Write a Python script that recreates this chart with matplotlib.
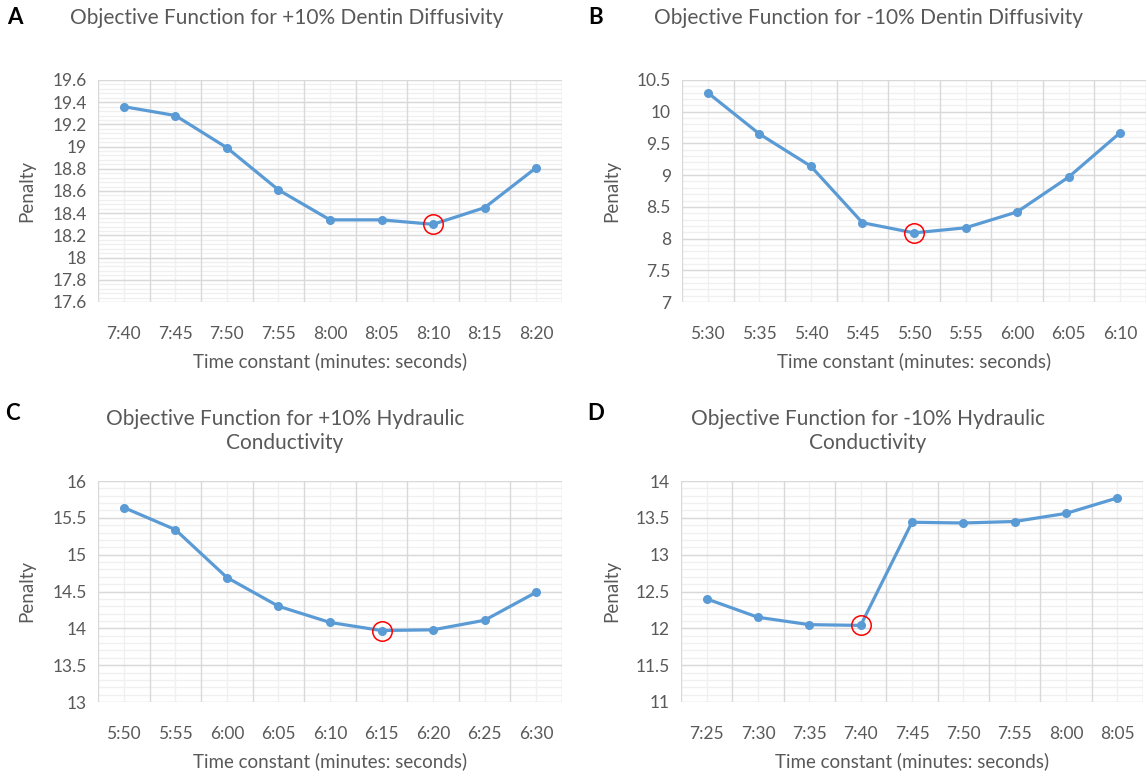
import matplotlib
matplotlib.use("Agg")
import matplotlib.pyplot as plt
import numpy as np
from matplotlib.ticker import MultipleLocator

plt.rcParams['font.family'] = ['Lato', 'DejaVu Sans']

# ---- data ----
labels_a = ["7:40", "7:45", "7:50", "7:55", "8:00", "8:05", "8:10", "8:15", "8:20"]
values_a = [19.36, 19.28, 18.99, 18.61, 18.34, 18.34, 18.30, 18.45, 18.81]
best_a = 6

labels_b = ["5:30", "5:35", "5:40", "5:45", "5:50", "5:55", "6:00", "6:05", "6:10"]
values_b = [10.30, 9.65, 9.14, 8.25, 8.09, 8.17, 8.42, 8.97, 9.67]
best_b = 4

labels_c = ["5:50", "5:55", "6:00", "6:05", "6:10", "6:15", "6:20", "6:25", "6:30"]
values_c = [15.64, 15.34, 14.69, 14.30, 14.08, 13.97, 13.98, 14.11, 14.49]
best_c = 5

labels_d = ["7:25", "7:30", "7:35", "7:40", "7:45", "7:50", "7:55", "8:00", "8:05"]
values_d = [12.40, 12.15, 12.05, 12.04, 13.44, 13.43, 13.45, 13.56, 13.77]
best_d = 3

titles = ["Objective Function for +10% Dentin Diffusivity",
          "Objective Function for -10% Dentin Diffusivity",
          "Objective Function for +10% Hydraulic\nConductivity",
          "Objective Function for -10% Hydraulic\nConductivity"]
letters = ["A", "B", "C", "D"]
xlabel = "Time constant (minutes: seconds)"
ylabel = "Penalty"

W, H = 1146, 772
fig = plt.figure(figsize=(W / 100, H / 100), dpi=100)

TXT = "#595959"
LINE = "#5B9BD5"

panels = [
    dict(lab=labels_a, val=values_a, best=best_a, rect=(98, 80, 464, 222), ylim=(17.6, 19.6), major=0.2,
         title_xy=(287, 18), letter_xy=(15, 18), ylab_x=27),
    dict(lab=labels_b, val=values_b, best=best_b, rect=(682, 80, 464, 222), ylim=(7, 10.5), major=0.5,
         title_xy=(868, 18), letter_xy=(596, 18), ylab_x=612),
    dict(lab=labels_c, val=values_c, best=best_c, rect=(98, 481, 464, 221), ylim=(13, 16), major=0.5,
         title_xy=(285, 431), letter_xy=(12, 413), ylab_x=27),
    dict(lab=labels_d, val=values_d, best=best_d, rect=(681, 481, 462, 221), ylim=(11, 14), major=0.5,
         title_xy=(868, 431), letter_xy=(596, 413), ylab_x=612),
]

for i, p in enumerate(panels):
    l, t, w, h = p["rect"]
    ax = fig.add_axes([l / W, 1 - (t + h) / H, w / W, h / H])
    x = np.arange(len(p["lab"]))
    ax.set_xlim(-0.5, len(x) - 0.5)
    ax.set_ylim(*p["ylim"])
    ax.yaxis.set_major_locator(MultipleLocator(p["major"]))
    ax.set_xticks(x)
    ax.set_xticklabels(p["lab"])
    ax.grid(False)
    for yv in np.arange(p["ylim"][0], p["ylim"][1] + 1e-9, p["major"] / 5):
        ax.axhline(yv, color="#f0f0f0", lw=1.0, zorder=0)
    for yv in np.arange(p["ylim"][0], p["ylim"][1] + 1e-9, p["major"]):
        ax.axhline(yv, color="#d9d9d9", lw=1.0, zorder=0.5)
    for xv in x:
        ax.axvline(xv, color="#f0f0f0", lw=1.0, zorder=0)
    for xv in np.arange(len(x) + 1) - 0.5:
        ax.axvline(xv, color="#d9d9d9", lw=1.0, zorder=0.5)
    for s in ax.spines.values():
        s.set_visible(False)
    ax.tick_params(axis="both", which="both", length=0, colors=TXT, labelsize=12.5)
    ax.tick_params(axis="x", pad=17)
    ax.tick_params(axis="y", pad=8)
    ax.set_yticklabels([f"{v:g}" for v in ax.get_yticks()])
    ax.plot(x, p["val"], color=LINE, lw=2.3, marker="o", ms=5.5, zorder=3, clip_on=False)
    b = p["best"]
    ax.plot([x[b]], [p["val"][b]], marker="o", ms=14, mfc="none", mec="#ff0000", mew=1.1,
            zorder=4, clip_on=False)
    ax.set_xlabel(xlabel, color=TXT, fontsize=13.5, labelpad=8)
    fig.text(p["ylab_x"] / W, 1 - (t + h / 2) / H, ylabel, rotation=90, color=TXT,
             fontsize=13.5, ha="center", va="center")
    tx, ty = p["title_xy"]
    fig.text(tx / W, 1 - ty / H, titles[i], color=TXT, fontsize=15, ha="center", va="center",
             linespacing=1.3)
    lx, ly = p["letter_xy"]
    fig.text(lx / W, 1 - ly / H, letters[i], color="black", fontsize=16, fontweight="bold",
             ha="center", va="center")

fig.savefig("out.png", dpi=100, facecolor="white")
